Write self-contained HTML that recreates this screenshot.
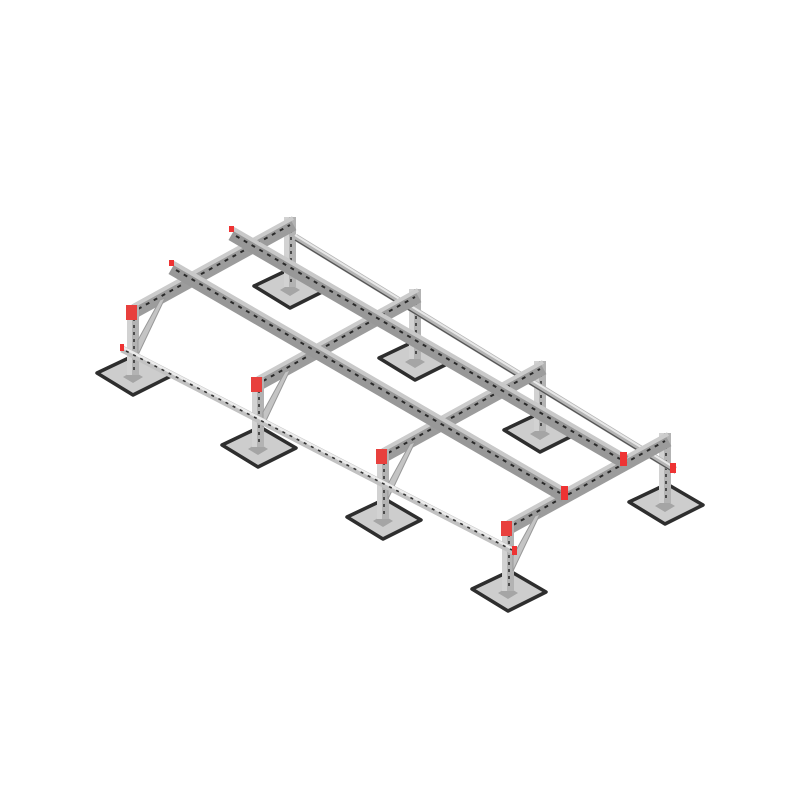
<!DOCTYPE html>
<html><head><style>html,body{margin:0;padding:0;background:#fff}</style></head><body>
<svg width="800" height="800" viewBox="0 0 800 800" xmlns="http://www.w3.org/2000/svg">
<defs>
<g id="foot">
<path d="M-36,-2 L2,-20 L38,1 L0,20 Z" fill="#cdcdcd" stroke="#2e2e2e" stroke-width="3.5" stroke-linejoin="round"/>
<path d="M-10,2 L0,-4 L10,2 L0,8 Z" fill="#a5a5a5"/>
</g>
<g id="fpost">
<rect x="-6" y="0" width="12" height="70" fill="#b3b3b3"/>
<rect x="-6" y="0" width="5" height="70" fill="#d2d2d2"/>
<line x1="1" y1="6" x2="1" y2="68" stroke="#333" stroke-width="1.6" stroke-dasharray="3 4"/>
</g>
</defs>

<use href="#foot" x="290" y="288"/><use href="#foot" x="415" y="360"/><use href="#foot" x="540" y="432"/><use href="#foot" x="665" y="504"/>
<use href="#fpost" x="290" y="217"/><use href="#fpost" x="415" y="289"/><use href="#fpost" x="540" y="361"/><use href="#fpost" x="665" y="433"/>

<line x1="295" y1="237" x2="675" y2="470" stroke="#b5b5b5" stroke-width="7"/>
<line x1="295" y1="235" x2="675" y2="468" stroke="#e8e8e8" stroke-width="2"/>
<line x1="295" y1="240" x2="675" y2="473" stroke="#555" stroke-width="1.3"/>
<rect x="670" y="463" width="6" height="10" fill="#e33"/>

<use href="#foot" x="133" y="375"/><use href="#foot" x="258" y="447"/><use href="#foot" x="383" y="519"/><use href="#foot" x="508" y="591"/>

<g stroke-linecap="butt">
<g id="cb">
<line x1="133" y1="312" x2="293" y2="224" stroke="#9c9c9c" stroke-width="14"/>
<line x1="133" y1="306" x2="293" y2="218" stroke="#cccccc" stroke-width="4"/>
<line x1="138" y1="309" x2="290" y2="225" stroke="#2a2a2a" stroke-width="2" stroke-dasharray="4 5"/>
</g>
<use href="#cb" x="125" y="72"/><use href="#cb" x="250" y="144"/><use href="#cb" x="375" y="216"/>
</g>

<g>
<line x1="232" y1="234" x2="625" y2="462" stroke="#989898" stroke-width="14"/>
<line x1="232" y1="228" x2="625" y2="456" stroke="#c9c9c9" stroke-width="4"/>
<line x1="236" y1="236" x2="620" y2="459" stroke="#2a2a2a" stroke-width="2" stroke-dasharray="4 5"/>
<rect x="620" y="452" width="7" height="14" fill="#e33"/>
<rect x="229" y="226" width="5" height="6" fill="#e33"/>
<line x1="172" y1="268" x2="565" y2="496" stroke="#989898" stroke-width="14"/>
<line x1="172" y1="262" x2="565" y2="490" stroke="#c9c9c9" stroke-width="4"/>
<line x1="176" y1="270" x2="560" y2="493" stroke="#2a2a2a" stroke-width="2" stroke-dasharray="4 5"/>
<rect x="561" y="486" width="7" height="14" fill="#e33"/>
<rect x="169" y="260" width="5" height="6" fill="#e33"/>
</g>

<g id="fp">
<use href="#fpost" x="133" y="305"/>
<polygon points="138,355 138,340 160,300 165,298" fill="#c4c4c4" stroke="#999" stroke-width="1"/>
<rect x="126" y="305" width="11" height="15" fill="#e8403d"/>
</g>
<use href="#fp" x="125" y="72"/><use href="#fp" x="250" y="144"/><use href="#fp" x="375" y="216"/>

<line x1="122" y1="349" x2="515" y2="552" stroke="#c2c2c2" stroke-width="7"/>
<line x1="122" y1="347" x2="515" y2="550" stroke="#ececec" stroke-width="2.5"/>
<line x1="126" y1="351" x2="512" y2="550" stroke="#333" stroke-width="1.6" stroke-dasharray="3 5"/>
<rect x="120" y="344" width="4" height="7" fill="#e33"/>
<rect x="512" y="546" width="5" height="9" fill="#e33"/>
</svg>
</body></html>
